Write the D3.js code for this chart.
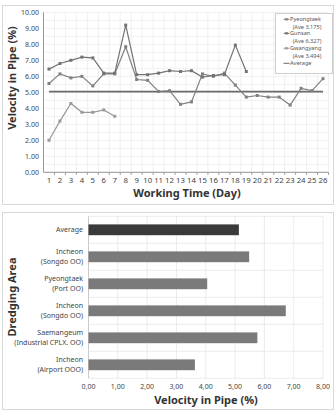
<!DOCTYPE html>
<html>
<head>
<meta charset="utf-8">
<script src="https://cdn.jsdelivr.net/npm/d3@7"></script>
<style>
  body { margin: 0; background: #fff; }
  svg { display: block; font-family: "Noto Sans", "Open Sans", sans-serif; }
</style>
</head>
<body>
<script>
// ---- data ----
const days = [1, 2, 3, 4, 5, 6, 7, 8, 9, 10, 11, 12, 13, 14, 15, 16, 17, 18, 19, 20, 21, 22, 23, 24, 25, 26];
const pyeongtaek = [5.55, 6.15, 5.9, 6.0, 5.4, 6.15, 6.15, 7.85, 5.8, 5.75, 5.05, 5.1, 4.25, 4.4, 6.15, 6.0, 6.2, 5.45, 4.7, 4.8, 4.7, 4.7, 4.2, 5.25, 5.1, 5.85];
const gunsan = [6.45, 6.8, 7.0, 7.2, 7.15, 6.2, 6.2, 9.2, 6.1, 6.1, 6.2, 6.35, 6.3, 6.35, 5.95, 6.05, 6.1, 7.95, 6.3];
const gwangyang = [2.0, 3.2, 4.3, 3.75, 3.75, 3.9, 3.5];
const averageLine = 5.04;
const yTicksTop = [0, 1, 2, 3, 4, 5, 6, 7, 8, 9, 10];
const legendNames = [["Pyeongtaek", "(Ave 3.175)"], ["Gunsan", "(Ave 6.327)"], ["Gwangyang", "(Ave 3.494)"], ["Average"]];

const areas = [["Average"], ["Incheon", "(Songdo OO)"], ["Pyeongtaek", "(Port OO)"], ["Incheon", "(Songdo OO)"], ["Saemangeum", "(Industrial CPLX. OO)"], ["Incheon", "(Airport OOO)"]];
const areaValues = [5.13, 5.48, 4.05, 6.73, 5.76, 3.63];
const xTicksBottom = [0, 1, 2, 3, 4, 5, 6, 7, 8];

const W = 336, H = 411;
const svg = d3.select("body").append("svg").attr("width", W).attr("height", H);

// 외곽 프레임
svg.append("rect").attr("x", 2.5).attr("y", 5.5).attr("width", 331).attr("height", 199)
  .attr("fill", "none").attr("stroke", "#d8d8d8");
svg.append("rect").attr("x", 2.5).attr("y", 212.5).attr("width", 331).attr("height", 197)
  .attr("fill", "none").attr("stroke", "#d8d8d8");

// ================= top line chart =================
const x = d3.scalePoint().domain(days).range([43.5, 328.5]).padding(0.5);
const y = d3.scaleLinear().domain([0, 10]).range([172.3, 12.3]);
const topG = svg.append("g");

// 격자
const halfSteps = d3.range(0, 10.01, 0.5);
topG.selectAll(".hg").data(halfSteps).enter().append("line")
  .attr("x1", 43.5).attr("x2", 328.5)
  .attr("y1", d => y(d)).attr("y2", d => y(d))
  .attr("stroke", "#ececec").attr("stroke-width", 0.8);
topG.selectAll(".vg").data(days).enter().append("line")
  .attr("x1", d => x(d) + x.step() / 2).attr("x2", d => x(d) + x.step() / 2)
  .attr("y1", y(10)).attr("y2", y(0))
  .attr("stroke", "#ececec").attr("stroke-width", 0.8);

// axes
topG.append("line").attr("x1", 43.5).attr("x2", 43.5).attr("y1", y(10)).attr("y2", y(0)).attr("stroke", "#999");
topG.append("line").attr("x1", 43.5).attr("x2", 328.5).attr("y1", y(0)).attr("y2", y(0)).attr("stroke", "#999");
topG.selectAll(".yt").data(yTicksTop).enter().append("text")
  .attr("x", 39).attr("y", d => y(d) + 2.5)
  .attr("text-anchor", "end").attr("font-size", 7).attr("fill", "#444")
  .text(d => d3.format(".2f")(d));
topG.selectAll(".xt").data(days).enter().append("text")
  .attr("x", d => x(d)).attr("y", 182.5)
  .attr("text-anchor", "middle").attr("font-size", 7.8).attr("fill", "#444")
  .text(d => d);
topG.selectAll(".xtick").data(days).enter().append("line")
  .attr("x1", d => x(d) + x.step() / 2).attr("x2", d => x(d) + x.step() / 2)
  .attr("y1", y(0)).attr("y2", y(0) + 2.5).attr("stroke", "#999");

// average line
topG.append("line").attr("x1", x(1)).attr("x2", x(26))
  .attr("y1", y(averageLine)).attr("y2", y(averageLine))
  .attr("stroke", "#6a6a6a").attr("stroke-width", 1.6);

const line = d3.line().x((d, i) => x(days[i])).y(d => y(d));
const series = [
  { vals: pyeongtaek, color: "#808080" },
  { vals: gunsan, color: "#737373" },
  { vals: gwangyang, color: "#9a9a9a" }
];
series.forEach(s => {
  topG.append("path").datum(s.vals).attr("d", line)
    .attr("fill", "none").attr("stroke", s.color).attr("stroke-width", 1.2);
  topG.selectAll(null).data(s.vals).enter().append("rect")
    .attr("x", (d, i) => x(days[i]) - 1.5).attr("y", d => y(d) - 1.5)
    .attr("width", 3).attr("height", 3).attr("fill", s.color);
});

// legend
const lg = topG.append("g");
lg.append("rect").attr("x", 275.5).attr("y", 13.5).attr("width", 57).attr("height", 60)
  .attr("fill", "#fff").attr("stroke", "#cfcfcf");
const rowY = [19.3, 33.3, 48.3, 63.3];
legendNames.forEach((nm, i) => {
  const c = i < 3 ? series[i].color : "#6a6a6a";
  lg.append("line").attr("x1", 283.5).attr("x2", 289.5).attr("y1", rowY[i]).attr("y2", rowY[i])
    .attr("stroke", c).attr("stroke-width", 1);
  if (i < 3) {
    lg.append("rect").attr("x", 285.3).attr("y", rowY[i] - 1.2).attr("width", 2.4).attr("height", 2.4).attr("fill", c);
  }
  nm.forEach((t, j) => {
    lg.append("text").attr("x", j === 0 ? 290 : 292.7).attr("y", rowY[i] + 2 + j * 7.2)
      .attr("font-size", 5.6).attr("fill", "#555").text(t);
  });
});

// titles
topG.append("text").attr("x", 187).attr("y", 197)
  .attr("text-anchor", "middle").attr("font-size", 11).attr("font-weight", "bold").attr("fill", "#333")
  .text("Working Time (Day)");
topG.append("text").attr("transform", "translate(16,78) rotate(-90)")
  .attr("text-anchor", "middle").attr("font-size", 11).attr("font-weight", "bold").attr("fill", "#333")
  .text("Velocity in Pipe  (%)");

// ================= bottom bar chart =================
const bx = d3.scaleLinear().domain([0, 8]).range([88.5, 323]);
const by = d3.scaleBand().domain(d3.range(areas.length)).range([216.3, 378.3]).paddingInner(0.6).paddingOuter(0.3);
const bot = svg.append("g");
const rowH = (378.3 - 216.3) / areas.length;

bot.selectAll(".bvg").data(xTicksBottom).enter().append("line")
  .attr("x1", d => bx(d)).attr("x2", d => bx(d)).attr("y1", 216.3).attr("y2", 378.3)
  .attr("stroke", d => d === 0 ? "#bdbdbd" : "#e6e6e6").attr("stroke-width", 0.8);
bot.selectAll(".bhg").data(d3.range(areas.length + 1)).enter().append("line")
  .attr("x1", 88.5).attr("x2", 323).attr("y1", d => 216.3 + d * rowH).attr("y2", d => 216.3 + d * rowH)
  .attr("stroke", "#e6e6e6").attr("stroke-width", 0.8);

bot.selectAll(".bar").data(areaValues).enter().append("rect")
  .attr("x", bx(0)).attr("y", (d, i) => by(i))
  .attr("width", d => bx(d) - bx(0)).attr("height", by.bandwidth())
  .attr("fill", (d, i) => i === 0 ? "#3a3a3a" : "#7a7a7a");

bot.selectAll(".bxt").data(xTicksBottom).enter().append("text")
  .attr("x", d => bx(d)).attr("y", 389)
  .attr("text-anchor", "middle").attr("font-size", 7).attr("fill", "#444")
  .text(d => d3.format(".2f")(d).replace(".", ","));

areas.forEach((lines, i) => {
  const cy = by(i) + by.bandwidth() / 2;
  lines.forEach((t, j) => {
    bot.append("text").attr("x", 83).attr("y", cy + 2.5 + (j - (lines.length - 1) / 2) * 10)
      .attr("text-anchor", "end").attr("font-size", 7).attr("fill", "#444").text(t);
  });
});

bot.append("text").attr("x", 206).attr("y", 404)
  .attr("text-anchor", "middle").attr("font-size", 11).attr("font-weight", "bold").attr("fill", "#333")
  .text("Velocity in Pipe (%)");
bot.append("text").attr("transform", "translate(16,297) rotate(-90)")
  .attr("text-anchor", "middle").attr("font-size", 11).attr("font-weight", "bold").attr("fill", "#333")
  .text("Dredging Area");
</script>
</body>
</html>
